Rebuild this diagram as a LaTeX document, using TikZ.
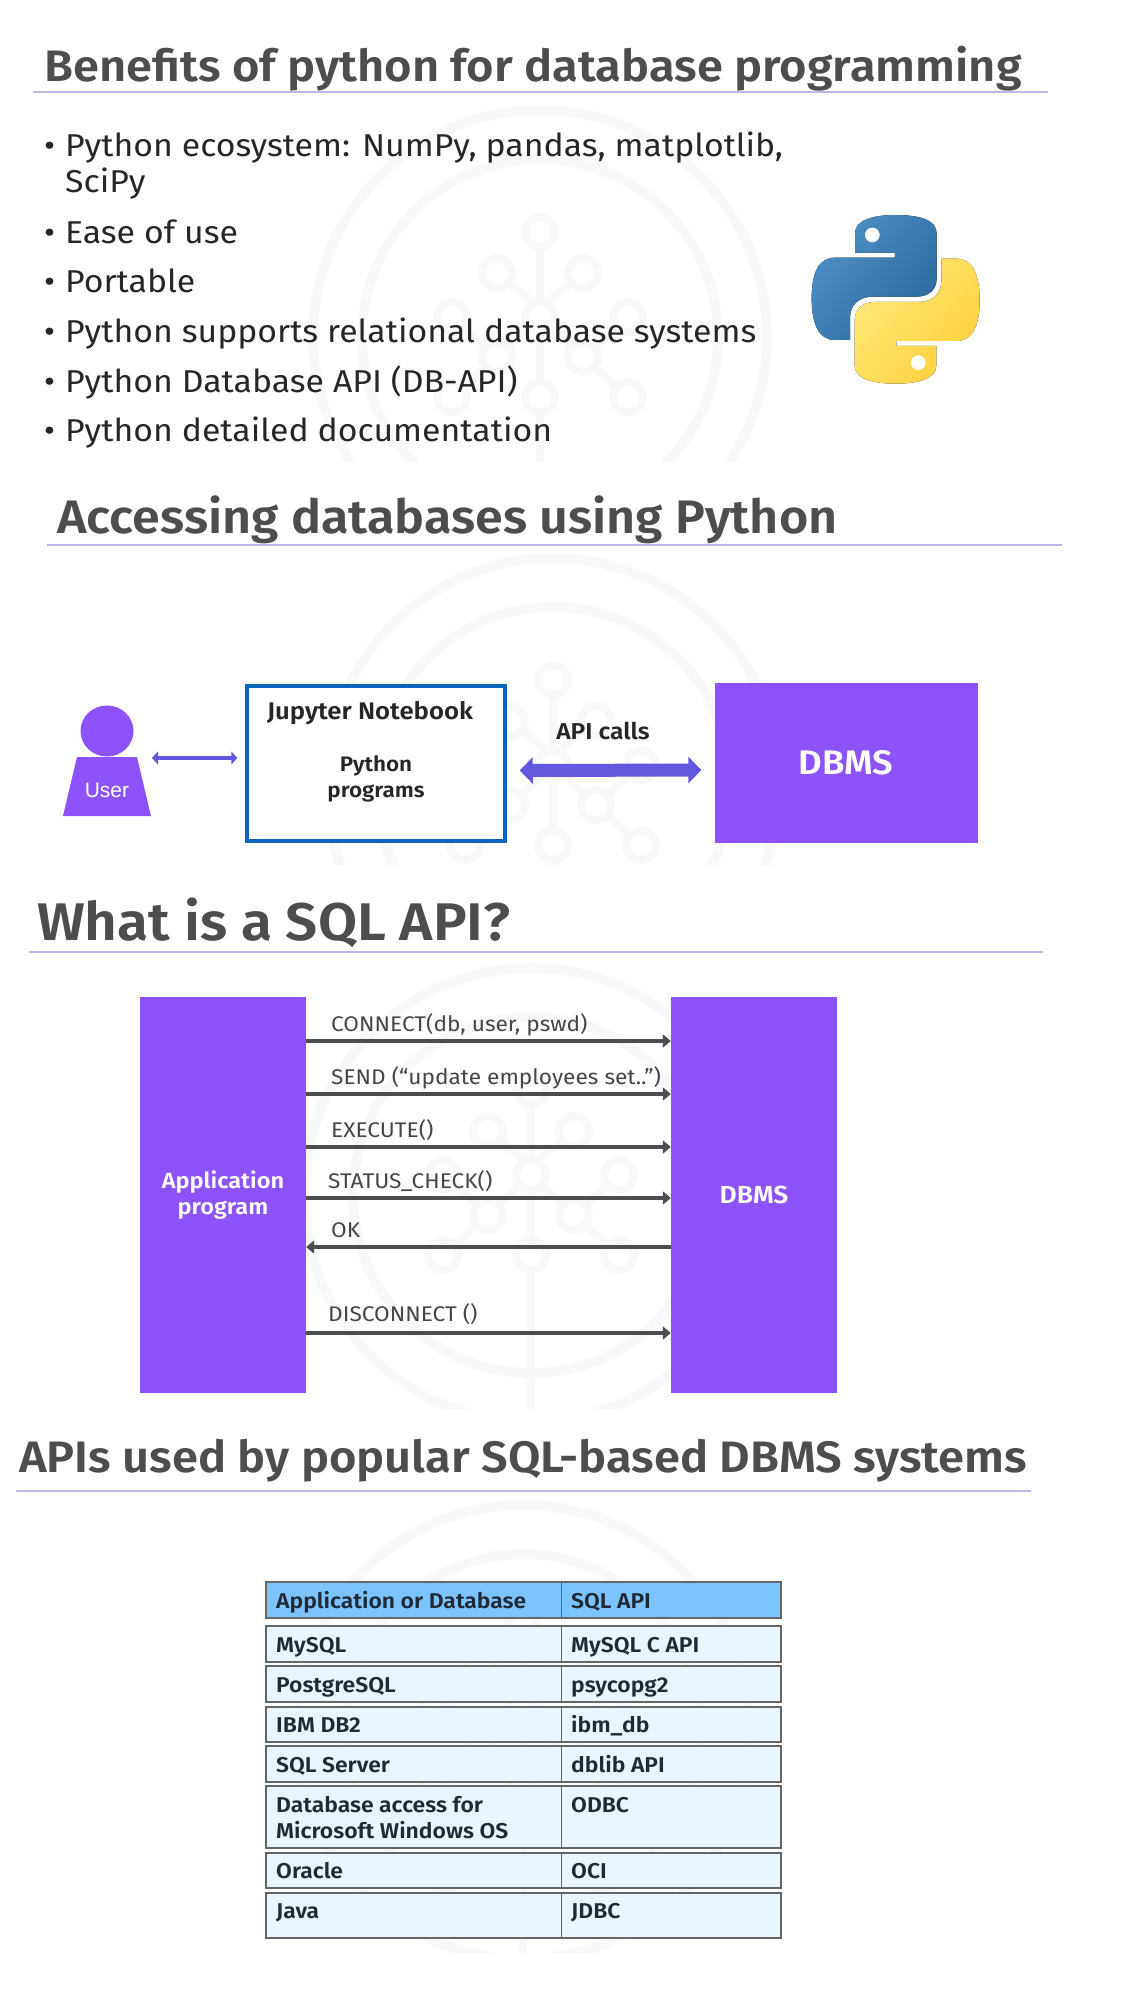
\documentclass[tikz,border=0pt]{standalone}
\usepackage{fontspec}
\setmainfont{Fira Sans}[FakeStretch=1.07,BoldFont={Fira Sans SemiBold}]
\newfontfamily\arialfont{Liberation Sans}
\usetikzlibrary{arrows.meta}
\definecolor{headgray}{HTML}{4D4D4D}
\definecolor{bodyink}{HTML}{262626}
\definecolor{rulelilac}{HTML}{BDB6E6}
\definecolor{markgray}{HTML}{F8F8F8}
\definecolor{dbviolet}{HTML}{8C52FC}
\definecolor{callblue}{HTML}{6257DE}
\definecolor{nbblue}{HTML}{0A66BD}
\definecolor{tabhead}{HTML}{7CC4FF}
\definecolor{tabrow}{HTML}{E9F5FF}
\definecolor{tabink}{HTML}{1F2A36}
\definecolor{pyblueA}{HTML}{4E90C6}
\definecolor{pyblueB}{HTML}{2A689E}
\definecolor{pyyellowA}{HTML}{FFE878}
\definecolor{pyyellowB}{HTML}{FFD03C}
\def\fsize#1{\fontsize{#1}{#1}\selectfont}
% faint round mark behind every panel: centre x, centre y, lower cut
\def\treemark(#1,#2,#3){
	\begin{scope}
		\clip (0, #2-300) rectangle (1121, #3);
		\begin{scope}[shift={(#1, #2)}, draw=markgray, line width=8pt]
			\draw[line width=10pt] (0, 0) circle (227);
			\draw[line width=10pt] (0, 0) circle (178);
			\draw (0, -105) -- (0, 300);
			\draw (-43, -64) -- (0, -30) -- (43, -64);
			\draw (-88, -20) -- (-43, 20) -- (0, -20) -- (43, 20) -- (88, -20);
			\draw (-88, 60) -- (-43, 20);
			\draw (88, 60) -- (43, 20);
			\foreach \cx/\cy in {0/-105, -43/-64, 43/-64, -88/-20, 0/-20, 88/-20, -43/20, 43/20, -88/60, 0/60, 88/60}
				\draw[fill=white] (\cx, \cy) circle (15);
		\end{scope}
	\end{scope}
}
\tikzset{
	heading/.style={anchor=base west, inner sep=0pt, text=headgray, font=\bfseries},
	headrule/.style={draw=rulelilac, line width=1.2pt},
	bulletline/.style={anchor=base west, inner sep=0pt, text=bodyink, font=\fsize{31.6}},
	boldlabel/.style={anchor=base, inner sep=0pt, text=black!85, font=\bfseries\fsize{23}},
	violetbox/.style={fill=dbviolet, text=white, inner sep=0pt, align=center, font=\bfseries\fsize{23}},
	thinarrow/.style={draw=callblue, line width=3.5pt, {Triangle[length=6pt,width=13pt]}-{Triangle[length=6pt,width=13pt]}},
	callarrow/.style={draw=callblue, line width=13pt, {Triangle[length=13pt,width=26pt]}-{Triangle[length=13pt,width=26pt]}},
	sqlarrow/.style={draw=headgray, line width=3.4pt, -{Triangle[length=8pt,width=13pt]}},
	sqllabel/.style={anchor=base west, inner sep=0pt, text=headgray!90!black, font=\fsize{21.2}},
	tabcell/.style={draw=black!60, line width=1.6pt},
	tabtext/.style={anchor=base west, inner sep=0pt, text=tabink, font=\bfseries\fsize{21.4}},
}
\begin{document}
\begin{tikzpicture}[x=1pt, y=-1pt]
	\useasboundingbox (0, 0) rectangle (1121, 1997);
	%%%%% START %%%%%
	
	\treemark(540,337,462)
	\treemark(553,785,864)
	\treemark(531,1195,1408)
	\treemark(523,1732,1952)
	
	% benefits
	\node[heading, font=\bfseries\fsize{44}] (headone) at (44, 81) {Benefits of python for database programming};
	\draw[headrule] (33, 92) -- (1048, 92);
	
	\node[bulletline] (itemone) at (65, 156) {\llap{\textbullet\hskip 10pt}Python ecosystem: NumPy, pandas, matplotlib,};
	\node[bulletline] (itemonea) at (65, 192) {SciPy};
	\node[bulletline] (itemtwo) at (65, 243) {\llap{\textbullet\hskip 10pt}Ease of use};
	\node[bulletline] (itemthree) at (65, 292) {\llap{\textbullet\hskip 10pt}Portable};
	\node[bulletline] (itemfour) at (65, 342) {\llap{\textbullet\hskip 10pt}Python supports relational database systems};
	\node[bulletline] (itemfive) at (65, 392) {\llap{\textbullet\hskip 10pt}Python Database API (DB-API)};
	\node[bulletline] (itemsix) at (65, 441) {\llap{\textbullet\hskip 10pt}Python detailed documentation};
	
	% logo, drawn on a 3x grid
	\begin{scope}[shift={(780, 190)}, x=0.3333pt, y=-0.3333pt]
		\fill[top color=pyblueA, bottom color=pyblueB, shading angle=50] (225, 188) -- (225, 130) .. controls (225, 90) and (280, 75) .. (345, 75) .. controls (420, 75) and (470, 90) .. (470, 130) -- (470, 265) .. controls (470, 300) and (445, 320) .. (410, 320) -- (280, 320) .. controls (235, 320) and (210, 345) .. (210, 385) -- (210, 450) -- (165, 450) .. controls (115, 450) and (95, 400) .. (95, 325) .. controls (95, 250) and (115, 203) .. (165, 203) -- (345, 203) -- (345, 188) -- cycle;
		\fill[white] (277, 135) circle (22);
		\fill[top color=pyyellowA, bottom color=pyyellowB, shading angle=50] (469, 468) -- (469, 526) .. controls (469, 566) and (414, 581) .. (349, 581) .. controls (274, 581) and (224, 566) .. (224, 526) -- (224, 391) .. controls (224, 356) and (249, 336) .. (284, 336) -- (414, 336) .. controls (459, 336) and (484, 311) .. (484, 271) -- (484, 206) -- (529, 206) .. controls (579, 206) and (599, 256) .. (599, 331) .. controls (599, 406) and (579, 453) .. (529, 453) -- (349, 453) -- (349, 468) -- cycle;
		\fill[white] (415, 518) circle (22);
	\end{scope}
	
	% access
	\node[heading, font=\bfseries\fsize{47}] (headtwo) at (57, 533) {Accessing databases using Python};
	\draw[headrule] (47, 545) -- (1062, 545);
	
	\fill[dbviolet] (107, 731) ellipse (26.5 and 25.5);
	\fill[dbviolet] (77, 757) -- (137, 757) -- (151, 816) -- (63, 816) -- cycle;
	\node[anchor=base, inner sep=0pt, text=white, font=\arialfont\fsize{21}] (username) at (107, 797) {User};
	
	\node[draw=nbblue, line width=3.5pt, fill=white, minimum width=258pt, minimum height=155pt, inner sep=0pt] (jupyter) at (376, 763.5) {};
	\node[boldlabel, font=\bfseries\fsize{24}] (jupytitle) at (370, 719) {Jupyter Notebook};
	\node[boldlabel, font=\bfseries\fsize{21}] (pyprog) at (376, 771) {Python};
	\node[boldlabel, font=\bfseries\fsize{21}] (pyproga) at (376, 797) {programs};
	
	\node[violetbox, minimum width=263pt, minimum height=160pt, font=\bfseries\fsize{34}] (dbmsone) at (846, 762.5) {DBMS};
	\node[boldlabel, font=\bfseries\fsize{23}] (apicalls) at (603, 739) {API calls};
	
	\coordinate (userside) at (152, 758);
	\draw[thinarrow] (userside) -- ([xshift=-8pt, yshift=5.5pt]jupyter.west);
	\draw[callarrow, shorten <=13pt, shorten >=13pt] ([yshift=-7pt]jupyter.east) -- ([yshift=-7.5pt]dbmsone.west);
	
	% sql api
	\node[heading, font=\bfseries\fsize{53}] (headthree) at (37, 940) {What is a SQL API?};
	\draw[headrule] (29, 952) -- (1043, 952);
	
	\node[violetbox, minimum width=166pt, minimum height=396pt, font=\bfseries\fsize{22}] (appprog) at (223, 1195) {Application\\[4pt]program};
	\node[violetbox, minimum width=166pt, minimum height=396pt, font=\bfseries\fsize{24.7}] (dbmstwo) at (754, 1195) {DBMS};
	
	\draw[sqlarrow] (appprog.east |- 0,1041) -- (dbmstwo.west |- 0,1041);
	\draw[sqlarrow] (appprog.east |- 0,1094) -- (dbmstwo.west |- 0,1094);
	\draw[sqlarrow] (appprog.east |- 0,1147) -- (dbmstwo.west |- 0,1147);
	\draw[sqlarrow] (appprog.east |- 0,1198) -- (dbmstwo.west |- 0,1198);
	\draw[sqlarrow] (dbmstwo.west |- 0,1247) -- (appprog.east |- 0,1247);
	\draw[sqlarrow] (appprog.east |- 0,1333) -- (dbmstwo.west |- 0,1333);
	
	\node[sqllabel] (callconnect) at (331, 1031) {CONNECT(db, user, pswd)};
	\node[sqllabel] (callsend) at (331, 1084) {SEND (“update employees set..”)};
	\node[sqllabel] (callexec) at (331, 1137) {EXECUTE()};
	\node[sqllabel] (callstatus) at (328, 1188) {STATUS\_CHECK()};
	\node[sqllabel] (callok) at (331, 1237) {OK};
	\node[sqllabel] (calldisc) at (328, 1321) {DISCONNECT ()};
	
	% api table
	\node[heading, font=\bfseries\fsize{44}] (headfour) at (19, 1472) {APIs used by popular SQL-based DBMS systems};
	\draw[headrule] (16, 1491) -- (1031, 1491);
	
	\draw[tabcell, fill=tabhead] (266, 1582) rectangle (781, 1618);
	\draw[tabcell, fill=tabrow] (266, 1626) rectangle (781, 1662);
	\draw[tabcell, fill=tabrow] (266, 1666) rectangle (781, 1702);
	\draw[tabcell, fill=tabrow] (266, 1707) rectangle (781, 1742);
	\draw[tabcell, fill=tabrow] (266, 1746) rectangle (781, 1782);
	\draw[tabcell, fill=tabrow] (266, 1786) rectangle (781, 1848);
	\draw[tabcell, fill=tabrow] (266, 1853) rectangle (781, 1888);
	\draw[tabcell, fill=tabrow] (266, 1893) rectangle (781, 1938);
	
	\draw[tabcell, line width=1pt] (561, 1582) -- (561, 1618);
	\draw[tabcell, line width=1pt] (561, 1626) -- (561, 1662);
	\draw[tabcell, line width=1pt] (561, 1666) -- (561, 1702);
	\draw[tabcell, line width=1pt] (561, 1707) -- (561, 1742);
	\draw[tabcell, line width=1pt] (561, 1746) -- (561, 1782);
	\draw[tabcell, line width=1pt] (561, 1786) -- (561, 1848);
	\draw[tabcell, line width=1pt] (561, 1853) -- (561, 1888);
	\draw[tabcell, line width=1pt] (561, 1893) -- (561, 1938);
	
	\node[tabtext] (rowhead) at (276, 1608) {Application or Database};
	\node[tabtext] (rowheadb) at (571, 1608) {SQL API};
	\node[tabtext] (rowmy) at (276, 1652) {MySQL};
	\node[tabtext] (rowmyb) at (571, 1652) {MySQL C API};
	\node[tabtext] (rowpg) at (276, 1692) {PostgreSQL};
	\node[tabtext] (rowpgb) at (571, 1692) {psycopg2};
	\node[tabtext] (rowibm) at (276, 1732) {IBM DB2};
	\node[tabtext] (rowibmb) at (571, 1732) {ibm\_db};
	\node[tabtext] (rowsrv) at (276, 1772) {SQL Server};
	\node[tabtext] (rowsrvb) at (571, 1772) {dblib API};
	\node[tabtext] (rowwin) at (276, 1812) {Database access for};
	\node[tabtext] (rowwina) at (276, 1838) {Microsoft Windows OS};
	\node[tabtext] (rowwinb) at (571, 1812) {ODBC};
	\node[tabtext] (rowora) at (276, 1878) {Oracle};
	\node[tabtext] (roworab) at (571, 1878) {OCI};
	\node[tabtext] (rowjava) at (276, 1918) {Java};
	\node[tabtext] (rowjavab) at (571, 1918) {JDBC};
	
	%%%%% END %%%%%
\end{tikzpicture}
\end{document}
